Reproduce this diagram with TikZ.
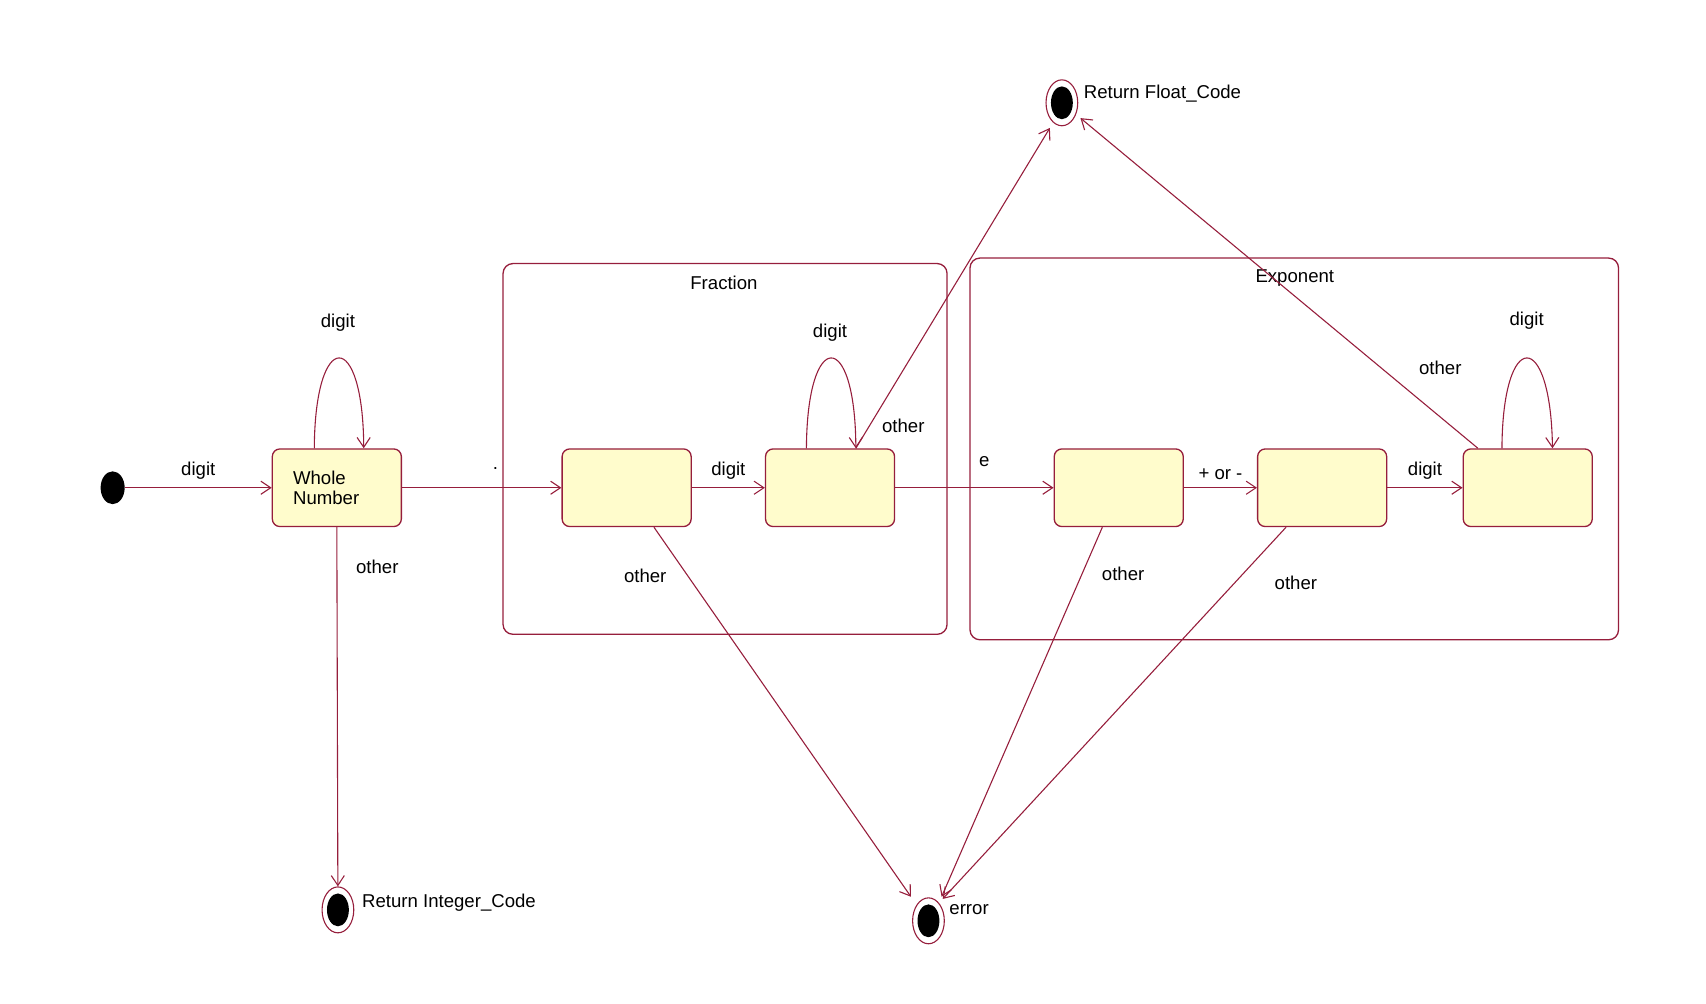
\documentclass[tikz,border=0pt]{standalone}
\usepackage{fontspec}
\setmainfont{Liberation Sans}
\usetikzlibrary{arrows.meta,shapes.geometric}
\definecolor{ln}{RGB}{150,30,60}
\definecolor{st}{RGB}{255,252,204}
\begin{document}
\begin{tikzpicture}[x=1pt,y=-1pt,
  every node/.style={font=\fontsize{17}{19}\selectfont},
  state/.style={draw=ln,fill=st,rounded corners=7pt,minimum width=118pt,minimum height=71pt,line width=1.2pt,align=left},
  cont/.style={draw=ln,rounded corners=9pt,line width=1.2pt},
  ar/.style={draw=ln,line width=1pt,-{Straight Barb[length=9pt,width=12pt]}},
  fin/.style={draw=ln,ellipse,fill=white,minimum width=29pt,minimum height=42pt,inner sep=0pt,line width=1pt},
  lbl/.style={inner sep=1pt}]
\useasboundingbox (0,0) rectangle (1560,918);
% containers
\draw[cont] (460,241) rectangle (866,580);
\draw[cont] (887,236) rectangle (1480,585);
\node[lbl] (lf) at (662,259) {Fraction};
\node[lbl] (le) at (1184,254) {Exponent};
% initial
\node[fill=black,ellipse,minimum width=22pt,minimum height=30pt,inner sep=0pt] (init) at (103,446) {};
% states
\node[state,text width=80pt] (wn) at (308,446) {Whole\\Number};
\node[state] (f1) at (573,446) {};
\node[state] (f2) at (759,446) {};
\node[state] (e1) at (1023,446) {};
\node[state] (e2) at (1209,446) {};
\node[state] (e3) at (1397,446) {};
% finals
\foreach \n/\p in {rfc/{(971,94)},ric/{(309,832)},err/{(849,842)}}{
  \node[fin] (\n) at \p {};
  \fill (\n.center) ellipse (10pt and 15pt);
}
\node[lbl,anchor=west] at (990,86) {Return Float\_Code};
\node[lbl,anchor=west] at (330,825) {Return Integer\_Code};
\node[lbl,anchor=west] at (867,832) {error};
% edges
\draw[ar] (init) -- (wn) node[lbl,midway,above=6pt] {digit};
\draw[ar] ([xshift=39pt]wn.north west) .. controls (288,300) and (332,300) .. ([xshift=-35pt]wn.north east);
\node[lbl] at (309,295) {digit};
\draw[ar] (wn) -- (f1);
\node[lbl] at (453,428) {.};
\draw[ar] (wn.south) -- (ric);
\node[lbl] at (345,518) {other};
\draw[ar] (f1) -- (f2) node[lbl,midway,above=6pt] {digit};
\draw[ar] ([xshift=38pt]f2.north west) .. controls (738,300) and (782,300) .. ([xshift=-36pt]f2.north east);
\node[lbl] at (759,304) {digit};
\draw[ar] ([xshift=-36pt]f2.north east) -- (960,117);
\node[lbl] at (826,389) {other};
\draw[ar] ([xshift=25pt]f1.south) -- (833,820);
\node[lbl] at (590,527) {other};
\draw[ar] (f2) -- (e1);
\node[lbl] at (900,422) {e};
\draw[ar] (e1) -- (e2) node[lbl,midway,above=6pt] {+ or -};
\draw[ar] (e2) -- (e3) node[lbl,midway,above=6pt] {digit};
\draw[ar] ([xshift=36pt]e3.north west) .. controls (1374,300) and (1418,300) .. ([xshift=-37pt]e3.north east);
\node[lbl] at (1396,293) {digit};
\draw[ar] ([xshift=14pt]e3.north west) -- (988,108);
\node[lbl] at (1317,336) {other};
\draw[ar] ([xshift=-15pt]e1.south) -- (861,820);
\node[lbl] at (1027,525) {other};
\draw[ar] ([xshift=-33pt]e2.south) -- (862,822);
\node[lbl] at (1185,533) {other};
\end{tikzpicture}
\end{document}
